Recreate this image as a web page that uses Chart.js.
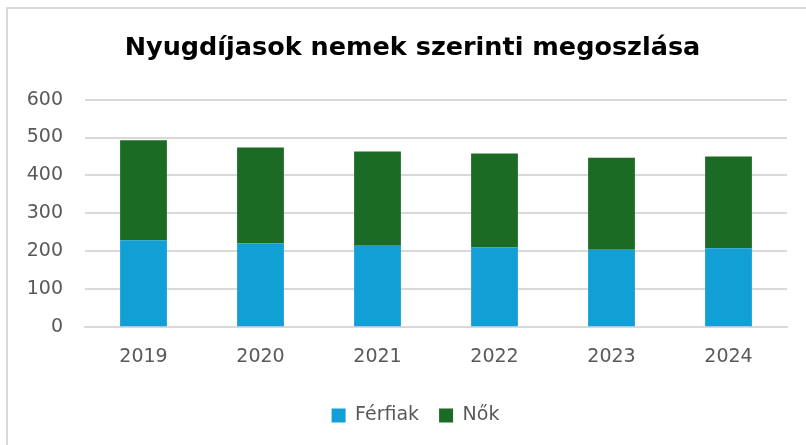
<!DOCTYPE html>
<html>
<head>
<meta charset="utf-8">
<script src="https://cdn.jsdelivr.net/npm/chart.js@4/dist/chart.umd.min.js"></script>
<style>
  html, body { margin: 0; padding: 0; background: #fff; }
  #wrap { position: relative; width: 806px; height: 445px; overflow: hidden; }
  #frame {
    position: absolute; left: 6px; top: 7px; width: 900px; height: 500px;
    border-top: 2px solid #d9d9d9; border-left: 2px solid #d9d9d9;
    box-sizing: border-box;
  }
  #chart { position: absolute; left: 0; top: 0; }
</style>
</head>
<body>
<div id="wrap">
  <div id="frame"></div>
  <canvas id="chart" width="806" height="445"></canvas>
</div>
<script>
// évek és létszámok (ezer fő)
var years = ['2019', '2020', '2021', '2022', '2023', '2024'];
var ferfiak = [229, 221, 215, 210, 204, 208];
var nok = [264, 253, 248, 248, 243, 242];
var yTicks = [0, 100, 200, 300, 400, 500, 600];

var tickColor = '#595959';
var gridColor = '#d9d9d9';
var labelFont = { family: '"DejaVu Sans", sans-serif', size: 19 };

// a cím és a jelmagyarázat a rajzterület közepéhez igazodik, ne a vászonéhoz
var shiftBlocks = {
  id: 'shiftBlocks',
  afterLayout: function(chart) {
    [[chart.titleBlock, 10], [chart.legend, 13]].forEach(function(item) {
      var box = item[0];
      if (!box) return;
      box.left += item[1];
      box.right += item[1];
    });
  }
};

var ctx = document.getElementById('chart').getContext('2d');
var chart = new Chart(ctx, {
  type: 'bar',
  data: {
    labels: years,
    datasets: [
      { label: 'Férfiak', data: ferfiak, backgroundColor: '#129fd6', borderWidth: 0 },
      { label: 'Nők', data: nok, backgroundColor: '#1b6b24', borderWidth: 0 }
    ]
  },
  plugins: [shiftBlocks],
  options: {
    responsive: false,
    animation: false,
    layout: { padding: { left: 18, right: 19, top: 22, bottom: 10 } },
    datasets: { bar: { categoryPercentage: 1, barPercentage: 0.4 } },
    plugins: {
      title: {
        display: true,
        text: 'Nyugdíjasok nemek szerinti megoszlása',
        color: '#000',
        font: { family: '"DejaVu Sans", sans-serif', size: 25.5, weight: 'bold' },
        padding: { top: 11, bottom: 36 }
      },
      legend: {
        position: 'bottom',
        labels: {
          color: tickColor,
          font: labelFont,
          boxWidth: 14,
          boxHeight: 14,
          padding: 20
        }
      },
      tooltip: { enabled: false }
    },
    scales: {
      x: {
        stacked: true,
        grid: { display: false, drawTicks: false },
        border: { display: true, color: gridColor, width: 2 },
        ticks: { color: tickColor, font: labelFont, padding: 18 }
      },
      y: {
        stacked: true,
        min: 0,
        max: 600,
        afterBuildTicks: function(scale) {
          scale.ticks = yTicks.map(function(v) { return { value: v }; });
        },
        afterFit: function(scale) { scale.width = 67; },
        grid: { color: gridColor, lineWidth: 2, drawTicks: false },
        border: { display: false },
        ticks: { color: tickColor, font: labelFont, padding: 22 }
      }
    }
  }
});
</script>
</body>
</html>
